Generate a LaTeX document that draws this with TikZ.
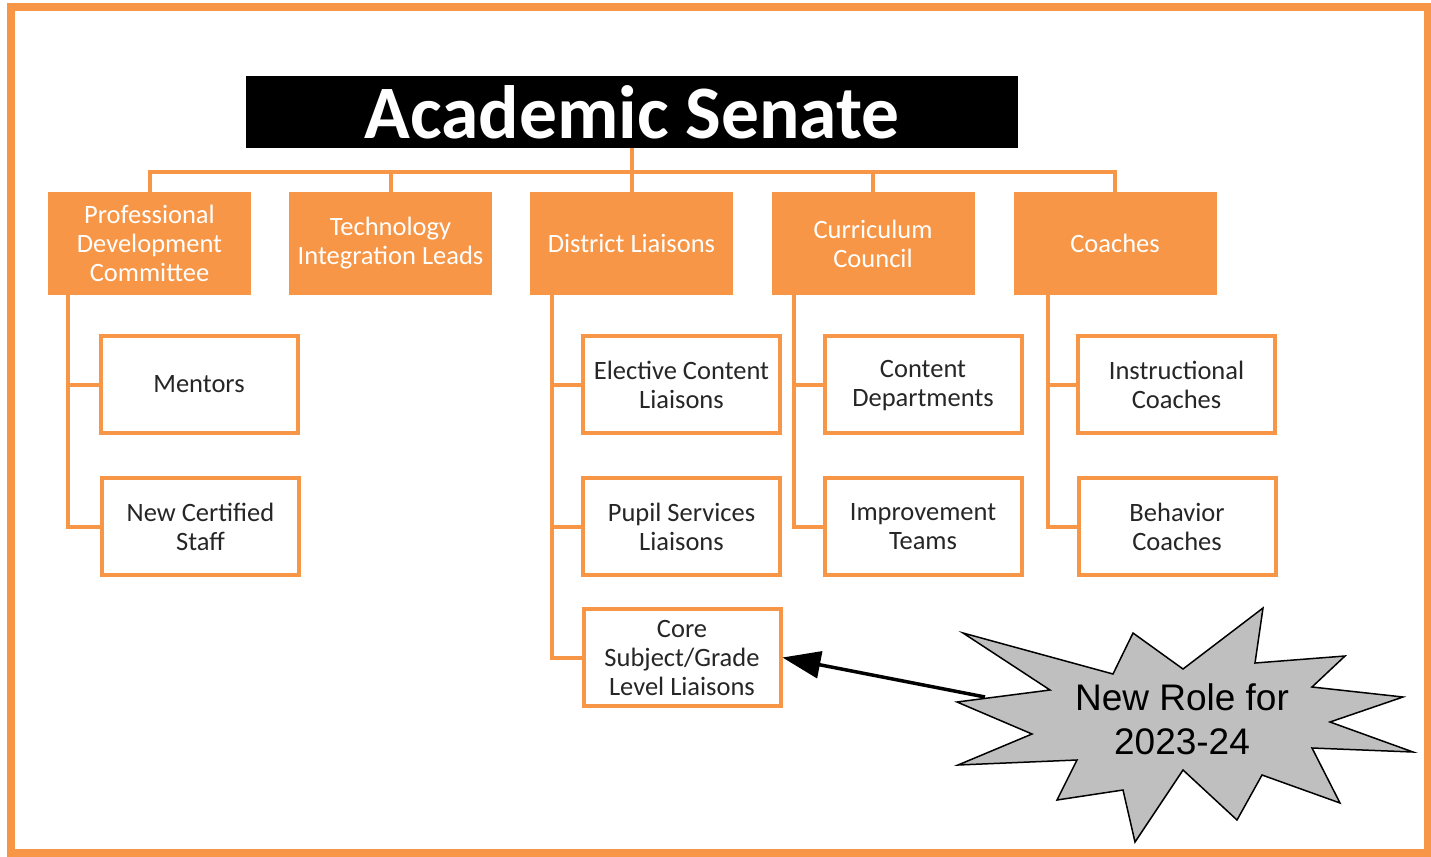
\documentclass[tikz,border=0pt]{standalone}
\usepackage{fontspec}
\setmainfont{Carlito}
\newfontfamily\burstfont{Liberation Sans}
\usetikzlibrary{arrows.meta}

\definecolor{orgcol}{RGB}{247,150,70}
\definecolor{txtcol}{RGB}{38,38,38}
\definecolor{burstgray}{RGB}{191,191,191}

\tikzset{
  topbox/.style={fill=orgcol, text=white, minimum width=203pt, minimum height=103pt,
    inner sep=0pt, align=center, font=\fontsize{26.5}{29}\selectfont},
  subbox/.style={draw=orgcol, line width=4pt, fill=white, text=txtcol,
    minimum width=197pt, minimum height=97pt, inner sep=0pt, align=center,
    font=\fontsize{26.5}{29}\selectfont},
  link/.style={draw=orgcol, line width=4pt},
}

\begin{document}
\begin{tikzpicture}[x=1pt,y=-1pt]
  \useasboundingbox (0,0) rectangle (1431,856);
  \draw[orgcol, line width=8pt] (11,7.5) rectangle (1427.5,852.5);

  % title and top row
  \node[fill=black, text=white, minimum width=772pt, minimum height=72pt, inner sep=0pt,
    font=\bfseries\fontsize{75.5}{80}\selectfont] (senate) at (632,112) {Academic Senate};

  \node[topbox] (pd)    at (149.5,243.5) {Professional\\Development\\Committee};
  \node[topbox] (tech)  at (390.5,243.5) {Technology\\Integration Leads};
  \node[topbox] (dl)    at (631.5,243.5) {District Liaisons};
  \node[topbox] (cc)    at (873,243.5)   {Curriculum\\Council};
  \node[topbox] (coach) at (1115,243.5)  {Coaches};

  \coordinate (bus) at (632,172);
  \draw[link] (pd.north) |- (bus) -| (coach.north);
  \foreach \n in {tech,dl,cc}
    \draw[link] (\n.north) -- (\n.north |- bus);
  \draw[link] (senate.south) -- (senate.south |- bus);

  % sub roles
  \node[subbox] (mentors)  at (199,384.5)    {Mentors};
  \node[subbox] (newstaff) at (200.5,526.5)  {New Certified\\Staff};
  \node[subbox] (elective) at (681.5,384.5)  {Elective Content\\Liaisons};
  \node[subbox] (pupil)    at (681.5,526.5)  {Pupil Services\\Liaisons};
  \node[subbox] (core)     at (682,657.5)    {Core\\Subject/Grade\\Level Liaisons};
  \node[subbox] (content)  at (923,384.5)    {\vphantom{l}Content\\Departments};
  \node[subbox] (improve)  at (923,526.5)    {Improvement\\Teams};
  \node[subbox] (instr)    at (1176.5,384.5) {Instructional\\Coaches};
  \node[subbox] (behav)    at (1177,526.5)   {Behavior\\Coaches};

  \draw[link] ([xshift=20pt]pd.south west) |- (newstaff.west);
  \draw[link] ([xshift=20pt]pd.south west |- mentors.west) -- (mentors.west);
  \draw[link] ([xshift=22pt]dl.south west) |- (core.west);
  \draw[link] ([xshift=22pt]dl.south west |- elective.west) -- (elective.west);
  \draw[link] ([xshift=22pt]dl.south west |- pupil.west) -- (pupil.west);
  \draw[link] ([xshift=23pt]cc.south west) |- (improve.west);
  \draw[link] ([xshift=23pt]cc.south west |- content.west) -- (content.west);
  \draw[link] ([xshift=35pt]coach.south west) |- (behav.west);
  \draw[link] ([xshift=35pt]coach.south west |- instr.west) -- (instr.west);

  % new role burst
  \draw[fill=burstgray, line width=1.5pt, line join=miter]
    (963,633) -- (1113,674) -- (1133,633) -- (1183,669) -- (1263,608) -- (1255,663)
    -- (1345,656) -- (1312,687) -- (1403,697) -- (1330,722) -- (1413,752) -- (1312,748)
    -- (1340,803) -- (1262,775) -- (1237,820) -- (1183,770) -- (1135,842) -- (1123,790)
    -- (1057,800) -- (1077,760) -- (958,765) -- (1032,734) -- (957,702) -- (1050,690)
    -- cycle;
  \node[align=center, font=\burstfont\fontsize{37}{44}\selectfont] (newrole) at (1182,719)
    {New Role for\\2023-24};
  \coordinate (burst) at (985,697);
  \draw[line width=3.5pt, -{Triangle[length=38pt,width=27pt]}] (burst) -- (core.east);
\end{tikzpicture}
\end{document}
